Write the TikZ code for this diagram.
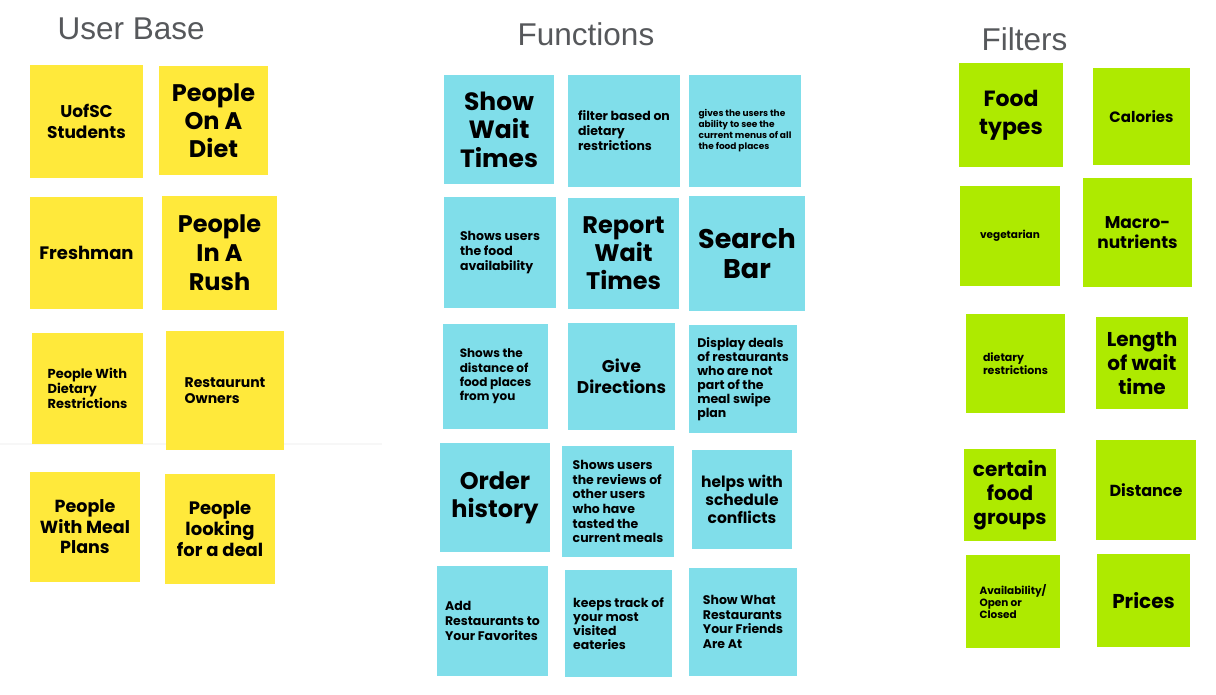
\documentclass[tikz,border=0pt]{standalone}
\usepackage{fontspec}
\setmainfont{Poppins}
\newfontfamily\titlefont{Liberation Sans}
\definecolor{yel}{HTML}{FFE93B}
\definecolor{cya}{HTML}{80DEEA}
\definecolor{grn}{HTML}{AEEA00}
\definecolor{ttl}{HTML}{56585B}
\tikzset{
  sticky/.style={rectangle, inner sep=0pt, draw=none, text=black},
  fs/.style 2 args={font=\bfseries\fontsize{#1}{#2}\selectfont},
  title/.style={anchor=base west, inner sep=0pt, text=ttl, font=\titlefont\fontsize{31.5}{34}\selectfont},
}
\newcommand\sticky[7]{%
  \node[sticky, minimum width={(#4-#2)*1pt}, minimum height={(#5-#3)*1pt}, #6]
    (#1) at ({(#2+#4)/2},{(#3+#5)/2}) {#7};}
\begin{document}
\begin{tikzpicture}[x=1pt,y=-1pt]
\useasboundingbox (0,0) rectangle (1216,694);
\fill[white] (0,0) rectangle (1216,694);
% faint line
\draw[black!3, line width=1.5pt] (0,444) coordinate (la) -- (382,444) coordinate (lb);
% titles
\node[title] (tu) at (57.5,39.8) {User Base};
\node[title] (tf) at (517.5,45) {Functions};
\node[title] (tg) at (981.5,50) {Filters};
% User base
\sticky{u1}{30}{65}{143}{178}{fill=yel, fs={17}{21}, align=center}{UofSC\\Students}
\sticky{u2}{159}{66}{268}{175}{fill=yel, fs={24}{28}, align=center}{People\\On A\\Diet}
\sticky{u3}{30}{197}{143}{309}{fill=yel, fs={18}{21}, align=center}{Freshman}
\sticky{u4}{162}{196}{277}{310}{fill=yel, fs={24}{29}, align=center}{People\\In A\\Rush}
\sticky{u5}{32}{333}{143}{444}{fill=yel, fs={13}{14.7}, align=left}{People With\\Dietary\\Restrictions}
\sticky{u6}{166}{331}{284}{450}{fill=yel, fs={14}{16}, align=left}{Restaurunt\\Owners}
\sticky{u7}{30}{472}{140}{582}{fill=yel, fs={17.5}{20.5}, align=center}{People\\With Meal\\Plans}
\sticky{u8}{165}{474}{275}{584}{fill=yel, fs={18}{20.7}, align=center}{People\\looking\\for a deal}
% Functions
\sticky{f1}{444}{75}{554}{184}{fill=cya, fs={25}{28.5}, align=center}{Show\\Wait\\Times}
\sticky{f2}{568}{75}{680}{187}{fill=cya, fs={12.5}{15}, align=left}{filter based on\\dietary\\restrictions}
\sticky{f3}{689}{75}{801}{187}{fill=cya, fs={9}{11}, align=left}{gives the users the\\ability to see the\\current menus of all\\the food places}
\sticky{f4}{444}{197}{556}{308}{fill=cya, fs={12.5}{14.7}, align=left}{Shows users\\the food\\availability}
\sticky{f5}{568}{198}{679}{309}{fill=cya, fs={24}{28}, align=center}{Report\\Wait\\Times}
\sticky{f6}{689}{196}{805}{311}{fill=cya, fs={27}{30}, align=center}{Search\\Bar}
\sticky{f7}{443}{324}{548}{429}{fill=cya, fs={12}{14.3}, align=left}{Shows the\\distance of\\food places\\from you}
\sticky{f8}{568}{323}{675}{430}{fill=cya, fs={17}{21}, align=center}{Give\\Directions}
\sticky{f9}{689}{325}{797}{433}{fill=cya, fs={12.5}{14}, align=left}{Display deals\\of restaurants\\who are not\\part of the\\meal swipe\\plan}
\sticky{f10}{440}{443}{550}{552}{fill=cya, fs={24}{28}, align=center}{Order\\history}
\sticky{f11}{562}{446}{674}{557}{fill=cya, fs={12.5}{14.7}, align=left}{Shows users\\the reviews of\\other users\\who have\\tasted the\\current meals}
\sticky{f12}{692}{450}{792}{549}{fill=cya, fs={15.5}{18.3}, align=center}{helps with\\schedule\\conflicts}
\sticky{f13}{437}{566}{548}{676}{fill=cya, fs={12.5}{15}, align=left}{Add\\Restaurants to\\Your Favorites}
\sticky{f14}{565}{570}{672}{677}{fill=cya, fs={12.5}{14}, align=left}{keeps track of\\your most\\visited\\eateries}
\sticky{f15}{689}{568}{797}{676}{fill=cya, fs={12.5}{14.5}, align=left}{Show What\\Restaurants\\Your Friends\\Are At}
% Filters
\sticky{g1}{959}{63}{1063}{167}{fill=grn, fs={22}{28}, align=center}{Food\\types}
\sticky{g2}{1093}{68}{1190}{165}{fill=grn, fs={15}{18}, align=center}{Calories}
\sticky{g3}{960}{186}{1060}{286}{fill=grn, fs={10.5}{12}, align=center}{vegetarian}
\sticky{g4}{1083}{178}{1192}{287}{fill=grn, fs={17}{20}, align=center}{Macro-\\nutrients}
\sticky{g5}{966}{314}{1065}{413}{fill=grn, fs={11}{12.5}, align=left}{dietary\\restrictions}
\sticky{g6}{1096}{317}{1188}{409}{fill=grn, fs={20}{24}, align=center}{Length\\of wait\\time}
\sticky{g7}{964}{449}{1056}{541}{fill=grn, fs={20}{24}, align=center}{certain\\food\\groups}
\sticky{g8}{1096}{440}{1196}{540}{fill=grn, fs={16}{18}, align=center}{Distance}
\sticky{g9}{966}{555}{1060}{648}{fill=grn, fs={10.5}{12.3}, align=left}{Availability/\\Open or\\Closed}
\sticky{g10}{1097}{554}{1190}{647}{fill=grn, fs={20}{22}, align=center}{Prices}
\end{tikzpicture}
\end{document}
